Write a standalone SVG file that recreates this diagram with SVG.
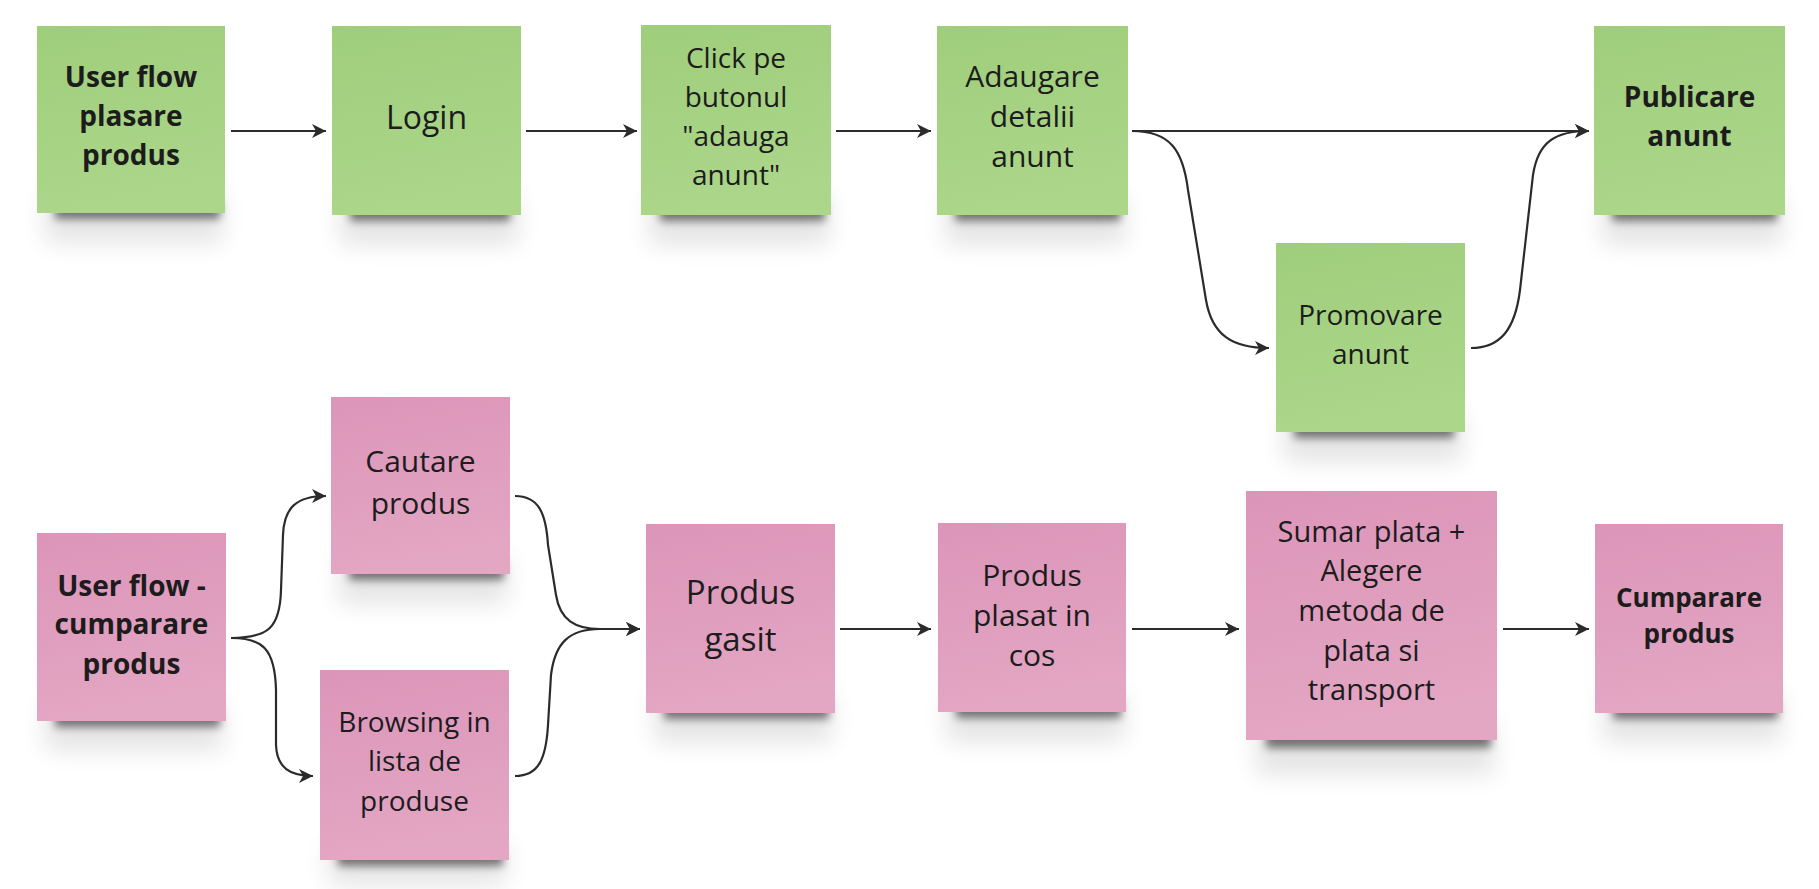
<svg xmlns="http://www.w3.org/2000/svg" width="1819" height="889" viewBox="0 0 1819 889">
<style>
.t{font-family:"Open Sans","Noto Sans","Liberation Sans",sans-serif;font-size:28px;fill:#1c1c1c;text-anchor:middle}
.b{font-weight:bold}
.big{font-size:33px}
.f30{font-size:30px}
.f29{font-size:29px}
.f26{font-size:26px}
.c{fill:none;stroke:#2b2b2b;stroke-width:2.2;marker-end:url(#ah)}
.sh1{fill:#000;opacity:.5;filter:url(#blur1)}
.sh2{fill:#000;opacity:.10;filter:url(#blur2)}
.g{fill:url(#gg)}
.p{fill:url(#pg)}
</style>
<defs>
<linearGradient id="gg" x1="0" y1="0" x2="0.2" y2="1"><stop offset="0" stop-color="#9fce7b"/><stop offset="1" stop-color="#acd68a"/></linearGradient>
<linearGradient id="pg" x1="0" y1="0" x2="0.2" y2="1"><stop offset="0" stop-color="#dc95b9"/><stop offset="1" stop-color="#e3a6c3"/></linearGradient>
<filter id="blur1" x="-20%" y="-100%" width="140%" height="300%"><feGaussianBlur stdDeviation="4"/></filter>
<filter id="blur2" x="-30%" y="-100%" width="160%" height="300%"><feGaussianBlur stdDeviation="12"/></filter>
<marker id="ah" markerUnits="userSpaceOnUse" markerWidth="16" markerHeight="16" viewBox="0 0 16 16" refX="15" refY="8" orient="auto">
<path d="M1,1 L15,8 L1,15 L5,8 z" fill="#2b2b2b"/>
</marker>
</defs>
<rect width="1819" height="889" fill="#ffffff"/>

<g id="connectors">
<path class="c" d="M231,131 L326,131"/>
<path class="c" d="M526,131 L637,131"/>
<path class="c" d="M836,131 L931,131"/>
<path class="c" d="M1132,131 L1589,131"/>
<path class="c" d="M1132,131 C1170,131 1183,150 1188,190 L1206,300 C1212,335 1232,348 1269,348"/>
<path class="c" d="M1471,348 C1500,348 1515,330 1520,290 L1533,175 C1538,142 1555,131 1589,131"/>
<path class="c" d="M231,638 C268,638 280,628 281,590 L283,535 C284,508 296,496 326,496"/>
<path class="c" d="M231,638 C262,638 275,648 276,690 L276,745 C277,768 290,776 313,776"/>
<path class="c" d="M515,496 C538,496 546,512 548,545 L556,595 C560,620 575,629 600,629 L640,629"/>
<path class="c" d="M515,776 C538,776 546,760 548,725 L551,675 C555,642 570,629 600,629 L640,629"/>
<path class="c" d="M840,629 L931,629"/>
<path class="c" d="M1132,629 L1239,629"/>
<path class="c" d="M1503,629 L1589,629"/>
</g>

<g id="n1">
<rect class="sh2" x="45" y="193" width="178" height="50"/>
<rect class="sh1" x="55" y="201" width="165" height="18"/>
<rect class="g" x="37" y="26" width="188" height="187"/>
<text class="t b" x="131" y="87">User flow</text>
<text class="t b" x="131" y="126">plasare</text>
<text class="t b" x="131" y="165">produs</text>
</g>

<g id="n2">
<rect class="sh2" x="340" y="195" width="178" height="50"/>
<rect class="sh1" x="350" y="203" width="160" height="18"/>
<rect class="g" x="332" y="26" width="189" height="189"/>
<text class="t" style="font-size:32px" x="426.5" y="129">Login</text>
</g>

<g id="n3">
<rect class="sh2" x="649" y="195" width="180" height="50"/>
<rect class="sh1" x="660" y="203" width="165" height="18"/>
<rect class="g" x="641" y="25" width="190" height="190"/>
<text class="t" x="736" y="68">Click pe</text>
<text class="t" x="736" y="107">butonul</text>
<text class="t" x="736" y="146">"adauga</text>
<text class="t" x="736" y="184.5">anunt"</text>
</g>

<g id="n4">
<rect class="sh2" x="945" y="195" width="180" height="50"/>
<rect class="sh1" x="955" y="203" width="165" height="18"/>
<rect class="g" x="937" y="26" width="191" height="189"/>
<text class="t f30" x="1032.5" y="87">Adaugare</text>
<text class="t f30" x="1032.5" y="127">detalii</text>
<text class="t f30" x="1032.5" y="167">anunt</text>
</g>

<g id="n5">
<rect class="sh2" x="1284" y="412" width="178" height="50"/>
<rect class="sh1" x="1294" y="420" width="160" height="18"/>
<rect class="g" x="1276" y="243" width="189" height="189"/>
<text class="t" x="1370.5" y="325">Promovare</text>
<text class="t" x="1370.5" y="364">anunt</text>
</g>

<g id="n6">
<rect class="sh2" x="1602" y="195" width="180" height="50"/>
<rect class="sh1" x="1612" y="203" width="165" height="18"/>
<rect class="g" x="1594" y="26" width="191" height="189"/>
<text class="t b" x="1689.5" y="107">Publicare</text>
<text class="t b" x="1689.5" y="146">anunt</text>
</g>

<g id="n7">
<rect class="sh2" x="45" y="701" width="178" height="50"/>
<rect class="sh1" x="55" y="709" width="165" height="18"/>
<rect class="p" x="37" y="533" width="189" height="188"/>
<text class="t b" x="131.5" y="596">User flow -</text>
<text class="t b" x="131.5" y="634">cumparare</text>
<text class="t b" x="131.5" y="674">produs</text>
</g>

<g id="n8">
<rect class="sh2" x="339" y="554" width="168" height="50"/>
<rect class="sh1" x="349" y="562" width="155" height="18"/>
<rect class="p" x="331" y="397" width="179" height="177"/>
<text class="t f30" x="420.5" y="472">Cautare</text>
<text class="t f30" x="420.5" y="514">produs</text>
</g>

<g id="n9">
<rect class="sh2" x="328" y="840" width="178" height="45"/>
<rect class="sh1" x="338" y="848" width="165" height="18"/>
<rect class="p" x="320" y="670" width="189" height="190"/>
<text class="t" x="414.5" y="732">Browsing in</text>
<text class="t" x="414.5" y="771">lista de</text>
<text class="t" x="414.5" y="810.5">produse</text>
</g>

<g id="n10">
<rect class="sh2" x="654" y="693" width="178" height="50"/>
<rect class="sh1" x="664" y="701" width="165" height="18"/>
<rect class="p" x="646" y="524" width="189" height="189"/>
<text class="t big" x="740.5" y="604">Produs</text>
<text class="t big" x="740.5" y="651">gasit</text>
</g>

<g id="n11">
<rect class="sh2" x="946" y="692" width="178" height="50"/>
<rect class="sh1" x="956" y="700" width="165" height="18"/>
<rect class="p" x="938" y="523" width="188" height="189"/>
<text class="t f30" x="1032" y="585.5">Produs</text>
<text class="t f30" x="1032" y="625.5">plasat in</text>
<text class="t f30" x="1032" y="665.5">cos</text>
</g>

<g id="n12">
<rect class="sh2" x="1256" y="720" width="238" height="55"/>
<rect class="sh1" x="1266" y="728" width="225" height="20"/>
<rect class="p" x="1246" y="491" width="251" height="249"/>
<text class="t f29" x="1371.5" y="542">Sumar plata +</text>
<text class="t f29" x="1371.5" y="581">Alegere</text>
<text class="t f29" x="1371.5" y="621">metoda de</text>
<text class="t f29" x="1371.5" y="660.5">plata si</text>
<text class="t f29" x="1371.5" y="700">transport</text>
</g>

<g id="n13">
<rect class="sh2" x="1603" y="693" width="178" height="50"/>
<rect class="sh1" x="1613" y="701" width="165" height="18"/>
<rect class="p" x="1595" y="524" width="188" height="189"/>
<text class="t b f26" x="1689" y="607">Cumparare</text>
<text class="t b f26" x="1689" y="643">produs</text>
</g>
</svg>
